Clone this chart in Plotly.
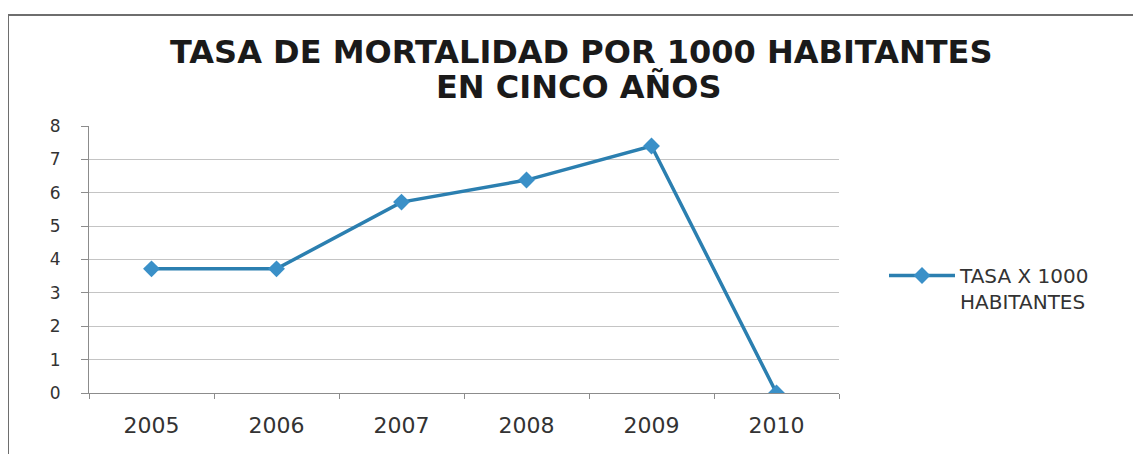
import plotly.graph_objects as go

years = ["2005", "2006", "2007", "2008", "2009", "2010"]
tasa = [3.72, 3.72, 5.72, 6.38, 7.4, 0.0]
series_name = "TASA X 1000<br>HABITANTES"
title_line1 = "TASA DE MORTALIDAD POR 1000 HABITANTES"
title_line2 = "EN CINCO AÑOS"

W, H = 1141, 454
OFF = 8  # page body margin
# desired plot area on screen
SX0, SX1, SY0, SY1 = 89, 839, 126, 393
L = SX0 - OFF
T = SY0 - OFF
R = W - (SX1 - OFF)
B = H - (SY1 - OFF)
pw, ph = SX1 - SX0, SY1 - SY0


def px_x(p):
    return (p - SX0) / pw


def px_y(p):
    return (SY1 - p) / ph


fig = go.Figure()
fig.add_trace(go.Scatter(
    x=years, y=tasa, mode="lines+markers", name=series_name,
    line=dict(color="#2b7fb0", width=3.5),
    marker=dict(symbol="diamond", size=13, color="#3a90c8"),
))

title_font = dict(family="DejaVu Sans", size=32, color="#1a1a1a", weight="bold")

fig.update_layout(
    width=W, height=H,
    margin=dict(l=L, r=R, t=T, b=B),
    paper_bgcolor="white", plot_bgcolor="white",
    font=dict(family="DejaVu Sans", color="#333333"),
    showlegend=True,
    legend=dict(
        x=px_x(884), xanchor="left", y=px_y(256), yanchor="top",
        font=dict(family="DejaVu Sans", size=20, color="#333333"),
        bgcolor="rgba(0,0,0,0)", itemwidth=66, valign="top",
        tracegroupgap=0,
    ),
    xaxis=dict(
        type="category", range=[-0.5, 5.5],
        showgrid=False, showline=True, linecolor="#8c8c8c", linewidth=1,
        ticks="outside", tickson="boundaries", ticklen=5, tickcolor="#8c8c8c",
        tickfont=dict(family="DejaVu Sans", size=22, color="#333333"),
        ticklabelstandoff=13,
    ),
    yaxis=dict(
        range=[0, 8], dtick=1, showgrid=True, gridcolor="#c4c4c4", gridwidth=1,
        showline=True, linecolor="#8c8c8c", linewidth=1,
        ticks="outside", ticklen=7, tickcolor="#8c8c8c",
        tickfont=dict(family="DejaVu Sans", size=17, color="#333333"),
        ticklabelstandoff=17,
        zeroline=False,
    ),
    annotations=[
        dict(text=title_line1, xref="paper", yref="paper",
             x=px_x(581), y=px_y(52), xanchor="center", yanchor="middle",
             showarrow=False, font=title_font),
        dict(text=title_line2, xref="paper", yref="paper",
             x=px_x(579), y=px_y(87), xanchor="center", yanchor="middle",
             showarrow=False, font=title_font),
    ],
    shapes=[
        dict(type="line", xref="paper", yref="paper",
             x0=px_x(8), x1=px_x(W + 20), y0=px_y(15), y1=px_y(15),
             line=dict(color="#6e6e6e", width=2)),
        dict(type="line", xref="paper", yref="paper",
             x0=px_x(8), x1=px_x(8), y0=px_y(15), y1=px_y(H + 20),
             line=dict(color="#6e6e6e", width=2)),
    ],
)

fig.write_html("out.html")
